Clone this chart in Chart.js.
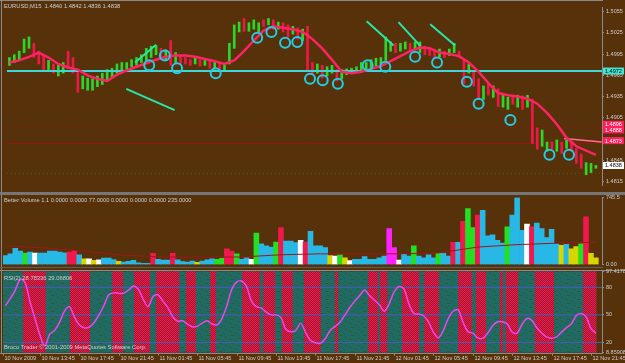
<!DOCTYPE html>
<html>
<head>
<meta charset="utf-8">
<title>EURUSD M15</title>
<script src="https://cdn.jsdelivr.net/npm/chart.js@4.4.1/dist/chart.umd.min.js"></script>
<style>
  html, body { margin: 0; padding: 0; background: #573109; }
  #frame { position: relative; width: 625px; height: 363px; overflow: hidden; background: #573109; }
  #frame canvas { position: absolute; left: 0; }
  .rule { position: absolute; background: #8a8a8a; }
</style>
</head>
<body>
<div id="frame">
  <div class="rule" style="left:0;top:0;width:603px;height:1px"></div>
  <div class="rule" style="left:1px;top:0;width:1px;height:353px"></div>
  <div class="rule" style="left:0;top:192px;width:625px;height:3px;background:#767676"></div>
  <div class="rule" style="left:0;top:267px;width:603px;height:1px;background:#5e5e5e"></div>
  <div class="rule" style="left:0;top:270px;width:625px;height:1px"></div>
  <div class="rule" style="left:0;top:353px;width:603px;height:1px"></div>
  <canvas id="priceChart" width="625" height="192" style="top:0"></canvas>
  <canvas id="volumeChart" width="625" height="78" style="top:192px"></canvas>
  <canvas id="rsiChart" width="625" height="97" style="top:266px"></canvas>
</div>
<script>
// one slot = two M15 bars (30 minutes)
const X_MIN = -0.5;
const X_MAX = 121.25;
const DATA_END = 120.1;

// ---------- price panel ----------
const priceHeader = 'EURUSD,M15  1.4840 1.4842 1.4836 1.4838';
const priceTicks = [1.4815, 1.4845, 1.4875, 1.4905, 1.4935, 1.4965, 1.4995, 1.5025, 1.5055];

const openPx = [
  1.4979, 1.4983, 1.4986, 1.4997, 1.5003, 1.5010, 1.4999, 1.4994, 1.4973, 1.4981,
  1.4964, 1.4968, 1.4999, 1.4990, 1.4973, 1.4946, 1.4944, 1.4944, 1.4949, 1.4952,
  1.4957, 1.4962, 1.4968, 1.4970, 1.4973, 1.4977, 1.4979, 1.4983, 1.4986, 1.4990,
  1.4994, 1.5003, 1.4986, 1.5014, 1.4983, 1.4993, 1.4990, 1.4987, 1.4981, 1.4987,
  1.4979, 1.4986, 1.4974, 1.4983, 1.4973, 1.4981, 1.5003, 1.5026, 1.5045, 1.5027,
  1.5030, 1.5026, 1.5043, 1.5036, 1.5043, 1.5030, 1.5039, 1.5036, 1.5023, 1.5032,
  1.5014, 1.5034, 1.4983, 1.4968, 1.4979, 1.4964, 1.4968, 1.4973, 1.4960, 1.4966,
  1.4968, 1.4969, 1.4970, 1.4973, 1.4974, 1.4978, 1.4981, 1.4986, 1.4999, 1.5010,
  1.4999, 1.5002, 1.5010, 1.5001, 1.4997, 1.5006, 1.5003, 1.5001, 1.4991, 1.4999,
  1.4993, 1.4997, 1.4999, 1.4987, 1.4968, 1.4970, 1.4960, 1.4931, 1.4953, 1.4934,
  1.4946, 1.4920, 1.4917, 1.4937, 1.4920, 1.4936, 1.4920, 1.4931, 1.4891, 1.4865,
  1.4858, 1.4871, 1.4858, 1.4871, 1.4862, 1.4871, 1.4862, 1.4854, 1.4825, 1.4828,
  1.4834
];
const closePx = [
  1.4990, 1.4994, 1.4999, 1.5016, 1.5019, 1.4990, 1.4981, 1.4970, 1.4986, 1.4968,
  1.4979, 1.4983, 1.4975, 1.4968, 1.4941, 1.4964, 1.4961, 1.4960, 1.4964, 1.4968,
  1.4973, 1.4975, 1.4981, 1.4983, 1.4983, 1.4987, 1.4990, 1.4994, 1.5003, 1.5006,
  1.5007, 1.4990, 1.5001, 1.4979, 1.4997, 1.4981, 1.4981, 1.4979, 1.4989, 1.4978,
  1.4986, 1.4975, 1.4983, 1.4973, 1.4981, 1.5010, 1.5036, 1.5040, 1.5027, 1.5039,
  1.5043, 1.5039, 1.5034, 1.5045, 1.5030, 1.5040, 1.5026, 1.5019, 1.5034, 1.5016,
  1.5030, 1.4970, 1.4966, 1.4981, 1.4961, 1.4977, 1.4979, 1.4957, 1.4973, 1.4974,
  1.4975, 1.4977, 1.4983, 1.4983, 1.4987, 1.4989, 1.4990, 1.5019, 1.5012, 1.4997,
  1.5010, 1.5012, 1.4999, 1.5012, 1.5012, 1.4994, 1.4993, 1.4990, 1.5002, 1.4990,
  1.5002, 1.5010, 1.4990, 1.4953, 1.4981, 1.4950, 1.4933, 1.4950, 1.4937, 1.4950,
  1.4921, 1.4937, 1.4934, 1.4924, 1.4937, 1.4917, 1.4937, 1.4869, 1.4861, 1.4888,
  1.4871, 1.4861, 1.4874, 1.4855, 1.4874, 1.4858, 1.4841, 1.4834, 1.4842, 1.4841,
  1.4838
];

// moving average, one value every 2 slots
const maPx = [
  1.4983, 1.4986, 1.4991, 1.4997, 1.4990, 1.4981, 1.4976, 1.4973, 1.4965, 1.4960,
  1.4957, 1.4966, 1.4972, 1.4977, 1.4982, 1.4987, 1.4991, 1.4993, 1.4993, 1.4991,
  1.4988, 1.4985, 1.4981, 1.4986, 1.4999, 1.5014, 1.5028, 1.5034, 1.5032, 1.5030,
  1.5026, 1.5016, 1.5003, 1.4987, 1.4970, 1.4968, 1.4970, 1.4974, 1.4978, 1.4985,
  1.4992, 1.4999, 1.5004, 1.5003, 1.4997, 1.4995, 1.4992, 1.4983, 1.4970, 1.4954,
  1.4940, 1.4937, 1.4935, 1.4932, 1.4925, 1.4912, 1.4896, 1.4877, 1.4865, 1.4859,
  1.4853
];

// cyan circle signals
const circleX = [28.6, 31.8, 34.3, 42.2, 50.7, 53.6, 56.4, 58.9, 61.5, 64.1, 67.2, 73.3, 76.9, 83.0, 87.5, 93.6, 96.0, 102.5, 110.5, 114.5];
const circleY = [1.4979, 1.4993, 1.4975, 1.4968, 1.5018, 1.5026, 1.5011, 1.5012, 1.4960, 1.4958, 1.4953, 1.4979, 1.4977, 1.4991, 1.4983, 1.4956, 1.4925, 1.4902, 1.4853, 1.4853];

// drawn trend lines [x1, price1, x2, price2]
const trendLines = [
  [23.9, 1.4946, 33.8, 1.4916],
  [25.7, 1.4983, 30.0, 1.5008],
  [73.1, 1.5041, 78.6, 1.5007],
  [79.6, 1.5040, 84.1, 1.5006],
  [86.1, 1.5037, 91.2, 1.5007]
];
const pinkLine = [113.5, 1.4876, 121.2, 1.4871];

// horizontal levels
const levelCyan = 1.4971;
const levelRedDotted = 1.4892;
const levelRed = 1.4869;
const levelGreenDotted = 1.4827;

// boxed price tags on the right axis
const tagValues = [1.4971, 1.4896, 1.4888, 1.4873, 1.4838];
const tagTexts = ['1.4972', '1.4896', '1.4888', '1.4873', '1.4838'];
const tagFills = ['#45e3d2', '#ff1f5c', '#ff1f5c', '#ff1f5c', '#ffffff'];
const tagInk = ['#000000', '#ffffff', '#ffffff', '#ffffff', '#000000'];

// ---------- volume panel ----------
const volumeHeader = 'Better Volume 1.1 0.0000 0.0000 77.0000 0.0000 0.0000 0.0000 235.0000';
const volume = [
  102, 120, 180, 150, 128, 139, 128, 128, 128, 150,
  150, 139, 131, 140, 160, 110, 66, 66, 47, 55,
  73, 73, 58, 37, 29, 37, 47, 22, 15, 15,
  125, 60, 50, 50, 125, 55, 35, 30, 40, 25,
  40, 55, 65, 60, 70, 175, 150, 120, 60, 75,
  60, 350, 230, 210, 195, 250, 410, 260, 260, 245,
  270, 250, 370, 210, 210, 190, 100, 95, 110, 75,
  45, 60, 60, 90, 60, 60, 75, 95, 400, 190,
  50, 115, 95, 210, 95, 75, 110, 75, 125, 125,
  95, 247, 247, 480, 620, 410, 550, 600, 320, 330,
  270, 240, 420, 550, 740, 380, 450, 420, 460, 400,
  300, 390, 230, 215, 225, 175, 200, 230, 530, 127,
  76
];
const volumeKind = (
  'ccccgcwccc' + 'cccrrcywyw' + 'cccycccccc' + 'rcccrccccy' +
  'cccggrrgcc' + 'wgcccgrccc' + 'wrccccywgy' + 'wcccccccmm' +
  'wccgccccgc' + 'crcrggrccc' + 'ccgcccwrcc' + 'cccycyygry' + 'y'
).split('');
// average line, one value every 8 slots
const volumeAvg = [208, 185, 150, 105, 85, 85, 85, 110, 120, 120, 120, 130, 195, 222, 238, 249];
const volumeTicks = [0, 745.5];

// ---------- RSI panel ----------
const rsiHeader = 'RSI(2) 28.78336 29.06806';
const footer = 'Broco Trader \u00a9 2001-2009 MetaQuotes Software Corp.';
const rsi = [
  60, 68, 77, 89, 85, 64, 46, 28, 16, 29,
  33, 42, 54, 59, 48, 39, 36, 36.5, 41.5, 50,
  60, 72, 74, 73.5, 73.5, 77, 81.5, 78, 67, 59,
  70, 72, 65, 58, 48, 43, 43.5, 40, 37, 37.5,
  41, 43.5, 40, 39, 46, 60, 78, 86, 87, 81,
  65, 59, 57.5, 53, 50, 50, 47, 34, 31.6, 33,
  41, 31, 22, 19.5, 19, 24, 33, 37.5, 42, 50,
  58, 65, 71, 77, 71, 66, 61, 54, 62, 75,
  81, 78, 62, 51.5, 51, 49, 42, 31, 25, 33,
  46, 54, 55.5, 42, 31.6, 30, 25, 24.4, 30, 38,
  42.5, 42.5, 40, 31, 30, 39.5, 46, 44, 36, 30,
  26, 24.5, 26, 31, 36, 40, 49, 51.6, 48, 35,
  30
];
const rsiRedZones = [
  [3.6, 8.2], [13.1, 17.2], [21.7, 23.9], [26.1, 29.4], [30.6, 35.3], [36.7, 38.7],
  [41.6, 42.8], [48.1, 51.7], [52.4, 54.8], [56.2, 58.4], [60.7, 64.1], [67.0, 67.6],
  [73.7, 75.7], [76.1, 77.6], [80.6, 84.1], [85.1, 88.1], [92.0, 94.8], [95.6, 97.7],
  [100.5, 101.1], [101.7, 104.2], [107.6, 111.5], [117.4, 120.1]
];
const rsiLevels = [20, 50, 80];
const rsiTicks = [8.85908, 20, 50, 80, 97.4178];
const rsiTickLabels = ['8.85908', '20', '50', '80', '97.4178'];

// ---------- time axis ----------
const timeTicks = [-0.5, 7, 15, 23, 31, 39, 47, 55, 63, 71, 79, 87, 95, 103, 111, 119];
const timeLabels = [
  '10 Nov 2009', '10 Nov 13:45', '10 Nov 17:45', '10 Nov 21:45', '11 Nov 01:45',
  '11 Nov 05:45', '11 Nov 09:45', '11 Nov 13:45', '11 Nov 17:45', '11 Nov 21:45',
  '12 Nov 01:45', '12 Nov 05:45', '12 Nov 09:45', '12 Nov 13:45', '12 Nov 17:45',
  '12 Nov 21:45'
];

// ---------- styling helpers ----------
const FONT = '"Liberation Sans", Arial, sans-serif';
const TEXT = '#cfcfcf';
const AXIS = '#8c8c8c';
const UP = '#2ad82a';
const DOWN = '#ee1848';
const VOLUME_COLORS = { c: '#27b8e6', r: '#f2184e', g: '#22e022', w: '#ffffff', y: '#d6d600', m: '#ff22ff' };

function xAxis() {
  return { type: 'linear', min: X_MIN, max: X_MAX, display: false, offset: false };
}

function rightAxis(min, max, ticks, fmt) {
  return {
    position: 'right',
    min: min,
    max: max,
    afterFit: s => { s.width = 23; },
    afterBuildTicks: s => { s.ticks = ticks.map(v => ({ value: v })); },
    ticks: { color: TEXT, font: { size: 5.5, family: FONT }, padding: 2, autoSkip: false, callback: fmt },
    grid: { drawOnChartArea: false, color: AXIS, tickLength: 2 },
    border: { color: AXIS }
  };
}

function segment(x1, y1, x2, y2, color, width, dash, order) {
  return {
    type: 'line',
    data: [{ x: x1, y: y1 }, { x: x2, y: y2 }],
    borderColor: color,
    borderWidth: width,
    borderDash: dash || [],
    pointRadius: 0,
    fill: false,
    order: order
  };
}

const baseOptions = (padding) => ({
  responsive: false,
  animation: false,
  events: [],
  layout: { padding: padding },
  plugins: { legend: { display: false }, tooltip: { enabled: false } }
});

// ---------- price chart ----------
const priceDecor = {
  id: 'priceDecor',
  afterDraw(chart) {
    const { ctx, scales: { y } } = chart;
    ctx.save();
    ctx.font = `5.8px ${FONT}`;
    ctx.textBaseline = 'middle';
    ctx.fillStyle = TEXT;
    ctx.fillText(priceHeader, 4, 6.5);
    ctx.font = `5.5px ${FONT}`;
    tagValues.forEach((v, i) => {
      const py = y.getPixelForValue(v);
      ctx.fillStyle = tagFills[i];
      ctx.fillRect(603, py - 3.5, 21, 7);
      ctx.fillStyle = tagInk[i];
      ctx.fillText(tagTexts[i], 605, py + 0.5);
    });
    ctx.restore();
  }
};

const priceDatasets = [
  segment(X_MIN, levelRedDotted, X_MAX, levelRedDotted, '#9a1414', 1, [1, 2], 9),
  segment(X_MIN, levelRed, X_MAX, levelRed, '#9a1414', 1, [], 9),
  segment(X_MIN, levelGreenDotted, X_MAX, levelGreenDotted, '#2f6a10', 1, [1, 3], 9),
  {
    type: 'bar',
    data: openPx.map((o, i) => ({ x: i, y: [o, closePx[i]] })),
    backgroundColor: openPx.map((o, i) => closePx[i] >= o ? UP : DOWN),
    barThickness: 2,
    borderWidth: 0,
    order: 6
  },
  segment(X_MIN, levelCyan, X_MAX, levelCyan, '#3ed6d6', 2, [], 5),
  {
    type: 'line',
    data: maPx.map((v, i) => ({ x: i * 2, y: v })),
    borderColor: '#ff2264',
    borderWidth: 2.5,
    pointRadius: 0,
    tension: 0,
    order: 4
  },
  segment(pinkLine[0], pinkLine[1], pinkLine[2], pinkLine[3], '#ff6f9a', 1.5, [], 4),
  ...trendLines.map(t => segment(t[0], t[1], t[2], t[3], '#26e6a8', 2, [], 3)),
  {
    type: 'line',
    data: circleX.map((x, i) => ({ x: x, y: circleY[i] })),
    showLine: false,
    pointRadius: 5,
    pointBorderWidth: 2,
    pointBorderColor: '#22cde6',
    pointBackgroundColor: 'rgba(0,0,0,0)',
    order: 1
  }
];

new Chart(document.getElementById('priceChart'), {
  type: 'bar',
  data: { datasets: priceDatasets },
  options: {
    ...baseOptions({ left: 3, top: 1, right: 0, bottom: 1 }),
    scales: {
      x: xAxis(),
      y: rightAxis(1.48105, 1.50612, priceTicks, v => Number(v).toFixed(4))
    }
  },
  plugins: [priceDecor]
});

// ---------- volume chart ----------
const volumeDecor = {
  id: 'volumeDecor',
  afterDraw(chart) {
    const { ctx } = chart;
    ctx.save();
    ctx.font = `5.7px ${FONT}`;
    ctx.textBaseline = 'middle';
    ctx.fillStyle = TEXT;
    ctx.fillText(volumeHeader, 4, 8.3);
    ctx.restore();
  }
};

new Chart(document.getElementById('volumeChart'), {
  type: 'bar',
  data: {
    datasets: [
      {
        type: 'line',
        data: volumeAvg.map((v, i) => ({ x: i * 8, y: v })),
        borderColor: '#a0161c',
        borderWidth: 1,
        pointRadius: 0,
        order: 1
      },
      {
        type: 'bar',
        data: volume.map((v, i) => ({ x: i, y: v })),
        backgroundColor: volumeKind.map(k => VOLUME_COLORS[k]),
        barPercentage: 1,
        categoryPercentage: 1,
        borderWidth: 0,
        order: 2
      }
    ]
  },
  options: {
    ...baseOptions({ left: 3, top: 5, right: 0, bottom: 4 }),
    scales: {
      x: xAxis(),
      y: rightAxis(0, 745.5, volumeTicks, v => v === 0 ? '0.00' : '745.5')
    }
  },
  plugins: [volumeDecor]
});

// ---------- RSI chart ----------
function redPattern(ctx) {
  const c = document.createElement('canvas');
  c.width = 2; c.height = 2;
  const g = c.getContext('2d');
  g.fillStyle = '#a3122f'; g.fillRect(0, 0, 2, 2);
  g.fillStyle = '#ea1f4d'; g.fillRect(0, 0, 1, 1); g.fillRect(1, 1, 1, 1);
  return ctx.createPattern(c, 'repeat');
}

function tealPattern(ctx) {
  const c = document.createElement('canvas');
  c.width = 12; c.height = 8;
  const g = c.getContext('2d');
  g.fillStyle = '#1d6a67'; g.fillRect(0, 0, 12, 8);
  g.fillStyle = '#3d5c18';
  g.fillRect(1, 1, 3, 1); g.fillRect(7, 3, 2, 1); g.fillRect(3, 5, 3, 1); g.fillRect(9, 7, 2, 1);
  return ctx.createPattern(c, 'repeat');
}

const rsiZones = {
  id: 'rsiZones',
  beforeDatasetsDraw(chart) {
    const { ctx, chartArea: a, scales: { x } } = chart;
    const h = a.bottom - a.top;
    ctx.save();
    ctx.fillStyle = tealPattern(ctx);
    const x0 = x.getPixelForValue(X_MIN);
    ctx.fillRect(x0, a.top, x.getPixelForValue(DATA_END) - x0, h);
    ctx.fillStyle = redPattern(ctx);
    rsiRedZones.forEach(([s, e]) => {
      const p0 = x.getPixelForValue(s);
      ctx.fillRect(p0, a.top, x.getPixelForValue(e) - p0, h);
    });
    ctx.restore();
  }
};

const rsiDecor = {
  id: 'rsiDecor',
  afterDraw(chart) {
    const { ctx, chartArea: a, scales: { x } } = chart;
    ctx.save();
    ctx.textBaseline = 'middle';
    ctx.fillStyle = TEXT;
    ctx.font = `5.8px ${FONT}`;
    ctx.fillText(rsiHeader, 4, 12);
    ctx.fillText(footer, 4, 81);
    // time axis
    ctx.font = `5.6px ${FONT}`;
    ctx.strokeStyle = AXIS;
    ctx.lineWidth = 1;
    timeTicks.forEach((t, i) => {
      const px = Math.round(x.getPixelForValue(t)) + 0.5;
      ctx.beginPath();
      ctx.moveTo(px, a.bottom + 1);
      ctx.lineTo(px, a.bottom + 3);
      ctx.stroke();
      ctx.fillStyle = TEXT;
      ctx.fillText(timeLabels[i], px + 1, a.bottom + 6);
    });
    ctx.restore();
  }
};

new Chart(document.getElementById('rsiChart'), {
  type: 'line',
  data: {
    datasets: [
      ...rsiLevels.map(v => segment(X_MIN, v, X_MAX, v, '#4b5cb4', 1, [], 3)),
      {
        data: rsi.map((v, i) => ({ x: i, y: v })),
        borderColor: '#ee46ee',
        borderWidth: 1.5,
        pointRadius: 0,
        tension: 0.3,
        order: 1
      }
    ]
  },
  options: {
    ...baseOptions({ left: 3, top: 5.4, right: 0, bottom: 10.4 }),
    scales: {
      x: xAxis(),
      y: rightAxis(8.85908, 97.4178, rsiTicks, (v, i) => rsiTickLabels[i])
    }
  },
  plugins: [rsiZones, rsiDecor]
});
</script>
</body>
</html>
